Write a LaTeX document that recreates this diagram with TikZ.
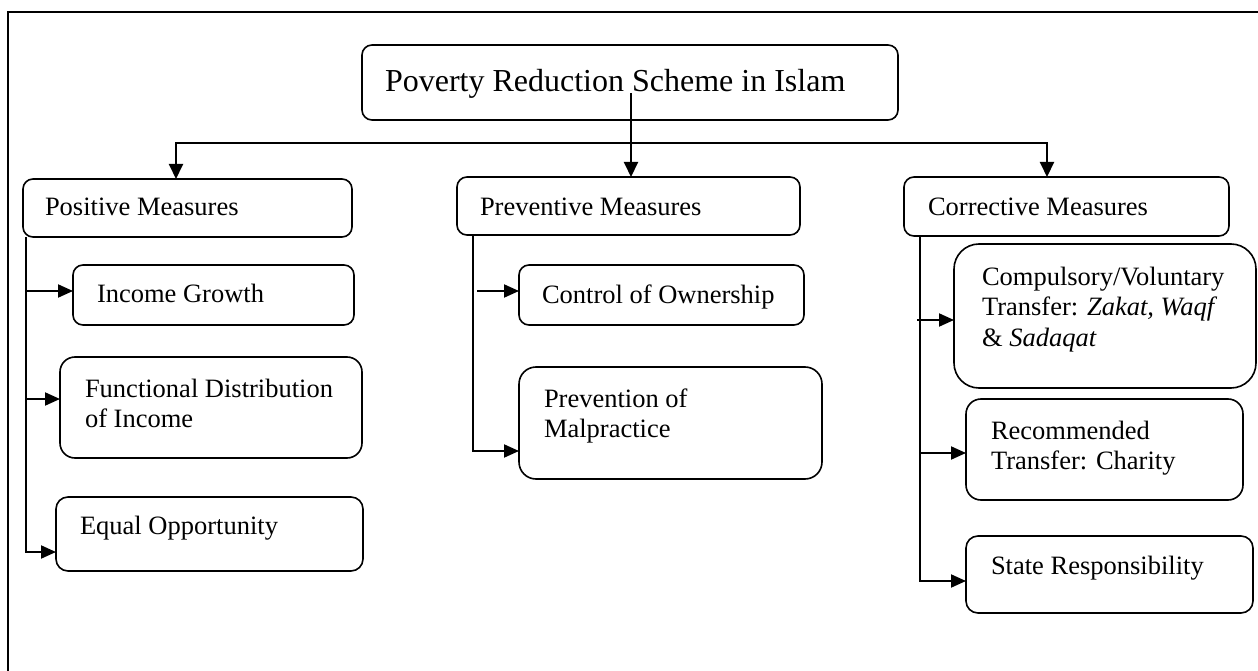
\documentclass[tikz,border=0pt]{standalone}
\usepackage{fontspec}
\setmainfont{Liberation Serif}
\usetikzlibrary{arrows.meta}
\tikzset{
  box/.style={draw=black, line width=1.6pt, inner sep=0pt, outer sep=0pt, rounded corners=#1},
  box/.default=10pt,
  lbl/.style={inner sep=0pt, outer sep=0pt, anchor=base west, font=\fontsize{26.5}{30}\selectfont},
  ttl/.style={inner sep=0pt, outer sep=0pt, anchor=base west, font=\fontsize{32}{36}\selectfont},
  conn/.style={line width=2pt, -{Triangle[length=15pt,width=14pt]}},
  branch/.style={line width=1.7pt},
  barr/.style={line width=2pt, -{Triangle[length=15pt,width=13pt]}},
}
\newcommand{\twol}[2]{\vtop{\baselineskip=30pt\hbox{#1}\hbox{#2}}}
\newcommand{\threel}[3]{\vtop{\baselineskip=30.5pt\hbox{#1}\hbox{#2}\hbox{#3}}}
\begin{document}
\begin{tikzpicture}[x=1pt,y=-1pt]
\useasboundingbox (0,0) rectangle (1258,671);
\begin{scope}
\clip (0,0) rectangle (1258,671);
\draw[line width=1.9pt] (8,12) rectangle (1275,690);
% boxes
\node[box, minimum width=536pt, minimum height=75pt] (title) at (630,82.5) {};
\node[box, minimum width=329pt, minimum height=58pt] (pos) at (187.5,208) {};
\node[box, minimum width=343pt, minimum height=58pt] (prev) at (628.5,206) {};
\node[box, minimum width=325pt, minimum height=59pt] (corr) at (1066.5,206.5) {};
\node[box, minimum width=281pt, minimum height=60pt] (inc) at (213.5,295) {};
\node[box=15pt, minimum width=302pt, minimum height=101pt] (fun) at (211,407.5) {};
\node[box=12pt, minimum width=307pt, minimum height=74pt] (equ) at (209.5,534) {};
\node[box, minimum width=285pt, minimum height=60pt] (ctrl) at (661.5,295) {};
\node[box=17pt, minimum width=303pt, minimum height=112pt] (mal) at (670.5,423) {};
\node[box=25pt, minimum width=302pt, minimum height=144pt] (comp) at (1105,316) {};
\node[box=15pt, minimum width=277pt, minimum height=101pt] (rec) at (1104.5,449.5) {};
\node[box=12pt, minimum width=287pt, minimum height=77pt] (state) at (1109.5,574.5) {};
\end{scope}
% texts
\node[ttl] (ttitle) at (385,92) {Poverty Reduction Scheme in Islam};
\node[lbl] (tpos) at (45,216) {Positive Measures};
\node[lbl] (tprev) at (480,216) {Preventive Measures};
\node[lbl] (tcorr) at (928,215) {Corrective Measures};
\node[lbl] (tinc) at (97,302) {Income Growth};
\node[lbl] (tfun) at (85,397) {\twol{Functional Distribution}{of Income}};
\node[lbl] (tequ) at (80,534) {Equal Opportunity};
\node[lbl] (tctrl) at (542,303) {Control of Ownership};
\node[lbl] (tmal) at (544,407) {\twol{Prevention of}{Malpractice}};
\node[lbl] (tcomp) at (982,285) {\threel{Compulsory/Voluntary}{Transfer: \textit{Zakat, Waqf}}{\& \textit{Sadaqat}}};
\node[lbl] (trec) at (991,439) {\twol{Recommended}{Transfer: Charity}};
\node[lbl] (tstate) at (991,574) {State Responsibility};
% main connectors
\coordinate (ts) at (631,93);
\coordinate (hl) at (176,143);
\coordinate (hr) at (1047,143);
\draw[conn] (ts) -- (ts |- prev.north);
\draw[conn] (hr) -- (hl) -- (hl |- pos.north);
\draw[conn] (hl) -- (hr) -- (hr |- corr.north);
% positive branch
\coordinate (pv) at (26,237);
\draw[branch] (pv |- pos.south) -- (26,552);
\draw[barr] (25.2,552) -- (equ.west |- 0,552);
\draw[barr] (26,291) -- (inc.west |- 0,291);
\draw[barr] (26,399) -- (fun.west |- 0,399);
% preventive branch
\draw[branch] (473,235) -- (473,451);
\draw[barr] (472.2,451) -- (mal.west |- 0,451);
\draw[barr] (477,291) -- (ctrl.west |- 0,291);
% corrective branch
\draw[branch] (920,236) -- (920,581);
\draw[barr] (919.2,581) -- (state.west |- 0,581);
\draw[barr] (917,320) -- (comp.west |- 0,320);
\draw[barr] (920,453) -- (rec.west |- 0,453);
\end{tikzpicture}
\end{document}
